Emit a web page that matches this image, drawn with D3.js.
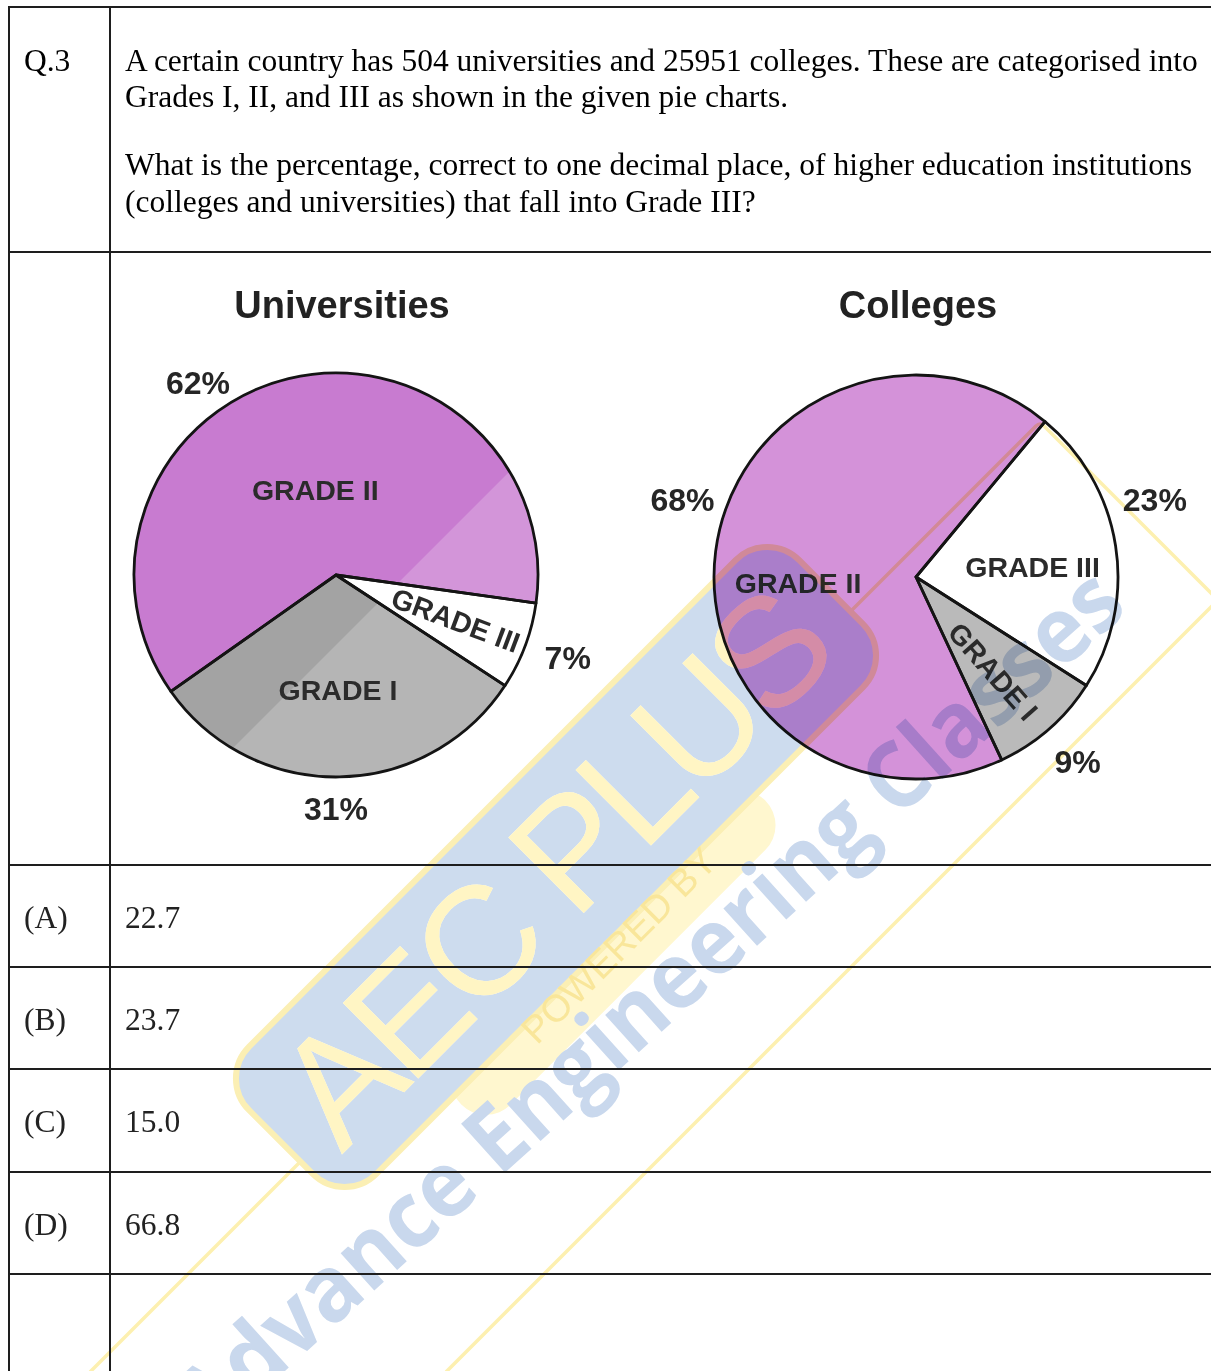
<!DOCTYPE html>
<html>
<head>
<meta charset="utf-8">
<script src="https://cdn.jsdelivr.net/npm/d3@7"></script>
<style>
  body { margin: 0; background: #fff; }
  svg { display: block; }
</style>
</head>
<body>
<script>
// data
var grades = ["GRADE III", "GRADE I", "GRADE II"];
var universityShares = [7, 31, 62];
var collegeShares = [23, 9, 68];
var percentLabels = function(v) { return v + "%"; };

var questionNo = "Q.3";
var questionLines = [
  "A certain country has 504 universities and 25951 colleges. These are categorised into",
  "Grades I, II, and III as shown in the given pie charts.",
  "What is the percentage, correct to one decimal place, of higher education institutions",
  "(colleges and universities) that fall into Grade III?"
];
var optionKeys = ["(A)", "(B)", "(C)", "(D)"];
var optionValues = ["22.7", "23.7", "15.0", "66.8"];

var w = 1211;
var h = 1371;

var svg = d3.select("body").append("svg")
    .attr("width", w)
    .attr("height", h);

var defs = svg.append("defs");

// question text
var serif = "'Liberation Serif', 'Times New Roman', serif";
var sans = "'Liberation Sans', Arial, sans-serif";
var fs = 31.5;

svg.append("text")
    .attr("x", 24).attr("y", 71)
    .attr("font-family", serif).attr("font-size", fs)
    .text(questionNo);

var lineY = [71, 107, 175, 212];
svg.selectAll("text.q")
    .data(questionLines)
    .enter()
    .append("text")
    .attr("class", "q")
    .attr("x", 125)
    .attr("y", function(d, i) { return lineY[i]; })
    .attr("font-family", serif).attr("font-size", fs)
    .attr("fill", "#000")
    .text(function(d) { return d; });

// options
var rowTop = [865, 967, 1069, 1172];
svg.selectAll("text.key")
    .data(optionKeys)
    .enter()
    .append("text")
    .attr("class", "key")
    .attr("x", 24)
    .attr("y", function(d, i) { return rowTop[i] + 63; })
    .attr("font-family", serif).attr("font-size", fs).attr("fill", "#222")
    .text(function(d) { return d; });

svg.selectAll("text.val")
    .data(optionValues)
    .enter()
    .append("text")
    .attr("class", "val")
    .attr("x", 125)
    .attr("y", function(d, i) { return rowTop[i] + 63; })
    .attr("font-family", serif).attr("font-size", fs).attr("fill", "#222")
    .text(function(d) { return d; });

// pies
var rad = Math.PI / 180;
var charts = [
  { title: "Universities", values: universityShares, cx: 336, cy: 575, r: 202, start: 98, titleX: 342,
    colors: ["#ffffff", "#a3a3a3", "#c87bd0"],
    inner: [{ r: 128, shift: 0, rot: true }, { r: 115, shift: 0 }, { r: 88, shift: 0 }],
    outer: [{ r: 246, shift: -1 }, { r: 233, shift: 1 }, { r: 237, shift: -22 }],
    lighten: true },
  { title: "Colleges", values: collegeShares, cx: 916, cy: 577, r: 202, start: 39.7, titleX: 918,
    colors: ["#ffffff", "#bababa", "#d492d9"],
    inner: [{ r: 117, shift: 4 }, { r: 122, shift: 2, rot: true }, { r: 118, shift: -10 }],
    outer: [{ r: 251, shift: -9 }, { r: 245, shift: 0 }, { r: 246, shift: 11 }],
    lighten: false }
];

function polar(c, angDeg, r) {
  var a = angDeg * rad;
  return [c.cx + r * Math.sin(a), c.cy - r * Math.cos(a)];
}

charts.forEach(function(c, ci) {
  var pie = d3.pie().sort(null)
      .startAngle(c.start * rad)
      .endAngle(c.start * rad + 2 * Math.PI);
  var arcs = pie(c.values);
  var arc = d3.arc().innerRadius(0).outerRadius(c.r);

  var g = svg.append("g").attr("transform", "translate(" + c.cx + "," + c.cy + ")");

  g.selectAll("path.fill")
      .data(arcs)
      .enter()
      .append("path")
      .attr("class", "fill")
      .attr("d", arc)
      .attr("fill", function(d, i) { return c.colors[i]; });

  if (c.lighten) {
    defs.append("clipPath").attr("id", "clip" + ci)
      .append("circle").attr("r", c.r);
    // lighter band on the right side of the scanned chart
    var k = (978 - c.cx - c.cy) / 2;
    g.append("polygon")
        .attr("clip-path", "url(#clip" + ci + ")")
        .attr("points", "-400,403 403,-400 600,600")
        .attr("transform", "translate(" + k + "," + k + ")")
        .attr("fill", "#fff")
        .attr("opacity", 0.2);
  }

  g.selectAll("path.edge")
      .data(arcs)
      .enter()
      .append("path")
      .attr("class", "edge")
      .attr("d", arc)
      .attr("fill", "none")
      .attr("stroke", "#141414")
      .attr("stroke-width", 2.8)
      .attr("stroke-linejoin", "round");

  svg.append("text")
      .attr("x", c.titleX).attr("y", 318)
      .attr("text-anchor", "middle")
      .attr("font-family", sans).attr("font-weight", "bold")
      .attr("font-size", 38).attr("fill", "#222")
      .text(c.title);

  arcs.forEach(function(d, i) {
    var mid = (d.startAngle + d.endAngle) / 2 / rad;
    var li = c.inner[i];
    var p = polar(c, mid + li.shift, li.r);
    var t = svg.append("text")
        .attr("text-anchor", "middle")
        .attr("dy", "0.36em")
        .attr("font-family", sans).attr("font-weight", "bold")
        .attr("font-size", 28.5).attr("fill", "#2b2b2b")
        .text(grades[i]);
    if (li.rot) {
      t.attr("transform", "translate(" + p[0] + "," + p[1] + ") rotate(" + (mid - 90) + ")");
    } else {
      t.attr("x", p[0]).attr("y", p[1]);
    }

    var lo = c.outer[i];
    var q = polar(c, mid + lo.shift, lo.r);
    svg.append("text")
        .attr("x", q[0]).attr("y", q[1])
        .attr("dy", "0.36em")
        .attr("text-anchor", "middle")
        .attr("font-family", sans).attr("font-weight", "bold")
        .attr("font-size", 32).attr("fill", "#262626")
        .text(percentLabels(c.values[i]));
  });
});

// watermark
var wm = svg.append("g").style("mix-blend-mode", "multiply");

wm.append("path")
    .attr("d", "M90,1372 L300,1162 M850,612 L1036,426 Q1040,422 1044,426 L1215,597 M446,1372 L1215,603")
    .attr("fill", "none")
    .attr("stroke", "#fdf0b0")
    .attr("stroke-width", 3.5);

var logo = wm.append("g").attr("transform", "translate(556,867) rotate(-45)");

logo.append("rect")
    .attr("x", -235).attr("y", 66).attr("width", 430).attr("height", 70)
    .attr("rx", 35)
    .attr("fill", "#fff7cf");

var mask = defs.append("mask").attr("id", "letters")
    .attr("maskUnits", "userSpaceOnUse")
    .attr("x", -600).attr("y", -300).attr("width", 1200).attr("height", 600);
mask.append("rect").attr("x", -600).attr("y", -300).attr("width", 1200).attr("height", 600).attr("fill", "#fff");
mask.append("text")
    .attr("x", 0).attr("y", 52)
    .attr("text-anchor", "middle")
    .attr("font-family", sans).attr("font-size", 155)
    .attr("textLength", 710).attr("lengthAdjust", "spacing")
    .attr("fill", "#000")
    .text("AEC PLUS");

logo.append("rect")
    .attr("x", -389).attr("y", -90).attr("width", 778).attr("height", 180)
    .attr("rx", 45)
    .attr("fill", "#cddcee")
    .attr("stroke", "#fbefb4")
    .attr("stroke-width", 6)
    .attr("mask", "url(#letters)");

logo.append("text")
    .attr("x", 0).attr("y", 52)
    .attr("text-anchor", "middle")
    .attr("font-family", sans).attr("font-size", 155)
    .attr("textLength", 710).attr("lengthAdjust", "spacing")
    .attr("fill", "#fff5c4")
    .text("AEC PLUS");

logo.append("text")
    .attr("x", -11).attr("y", 113)
    .attr("text-anchor", "middle")
    .attr("font-family", sans).attr("font-size", 38)
    .attr("fill", "#f9e69a")
    .text("POWERED BY");

wm.append("text")
    .attr("transform", "translate(1130,610) rotate(-42)")
    .attr("text-anchor", "end")
    .attr("font-family", "'Open Sans', sans-serif").attr("font-weight", "bold")
    .attr("font-size", 92)
    .attr("textLength", 1240).attr("lengthAdjust", "spacingAndGlyphs")
    .attr("fill", "#c9d8ed")
    .text("Advance Engineering Classes");

// table rules
var hLines = [7, 252, 865, 967, 1069, 1172, 1274];
svg.selectAll("line.h")
    .data(hLines)
    .enter()
    .append("line")
    .attr("x1", 8).attr("x2", w)
    .attr("y1", function(d) { return d; })
    .attr("y2", function(d) { return d; })
    .attr("stroke", "#1e1e1e")
    .attr("stroke-width", 2);

[9, 110].forEach(function(x) {
  svg.append("line")
      .attr("x1", x).attr("x2", x)
      .attr("y1", 6).attr("y2", h)
      .attr("stroke", "#1e1e1e")
      .attr("stroke-width", 2);
});
</script>
</body>
</html>
